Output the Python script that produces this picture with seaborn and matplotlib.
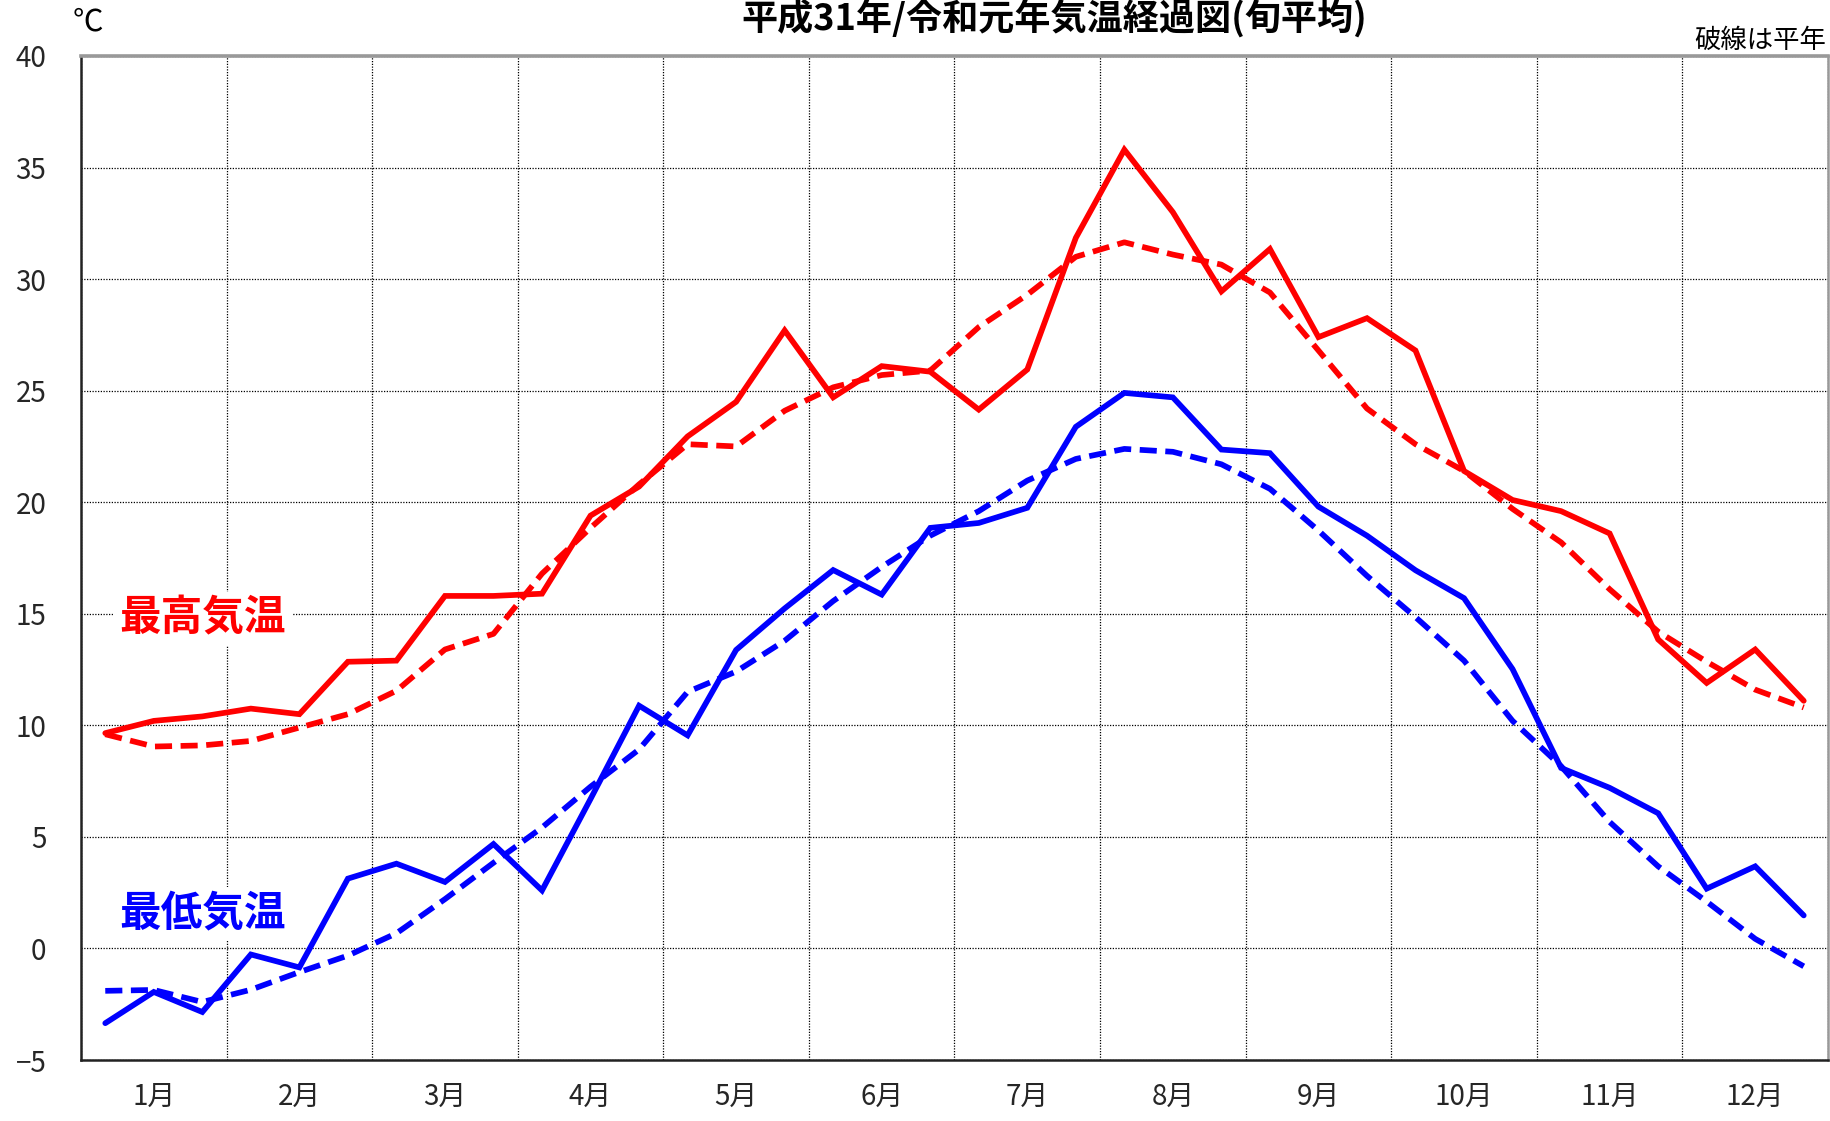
import numpy as np
import pandas as pd
import matplotlib
matplotlib.use("Agg")
import matplotlib.pyplot as plt
import seaborn as sns

# ---------------- data (旬平均, 36 dekads) ----------------
months = ["1月", "2月", "3月", "4月", "5月", "6月",
          "7月", "8月", "9月", "10月", "11月", "12月"]

max_2019 = [9.65, 10.2, 10.4, 10.75, 10.5, 12.85, 12.9, 15.8, 15.8,
            15.9, 19.4, 20.7, 22.95, 24.5, 27.7, 24.7, 26.1, 25.85,
            24.15, 25.95, 31.85, 35.8, 33.0, 29.45, 31.35, 27.4, 28.25,
            26.8, 21.4, 20.1, 19.6, 18.6, 13.85, 11.9, 13.4, 11.1]
max_normal = [9.6, 9.05, 9.1, 9.3, 9.9, 10.5, 11.55, 13.4, 14.1,
              16.8, 18.85, 20.8, 22.6, 22.5, 24.1, 25.15, 25.7, 25.9,
              27.85, 29.3, 31.0, 31.65, 31.1, 30.65, 29.4, 26.8, 24.2,
              22.6, 21.4, 19.7, 18.2, 16.1, 14.2, 12.85, 11.6, 10.8]
min_2019 = [-3.35, -1.95, -2.85, -0.27, -0.85, 3.13, 3.8, 2.98, 4.68,
            2.6, 6.7, 10.88, 9.55, 13.38, 15.24, 16.96, 15.86, 18.85,
            19.07, 19.75, 23.38, 24.9, 24.7, 22.36, 22.2, 19.8, 18.5,
            16.95, 15.7, 12.52, 8.09, 7.2, 6.06, 2.68, 3.68, 1.48]
min_normal = [-1.9, -1.86, -2.4, -1.85, -1.06, -0.32, 0.68, 2.21, 3.84,
              5.42, 7.25, 8.92, 11.5, 12.41, 13.79, 15.57, 17.1, 18.5,
              19.6, 20.97, 21.94, 22.39, 22.26, 21.7, 20.6, 18.73, 16.7,
              14.85, 12.9, 10.2, 8.17, 5.67, 3.68, 2.1, 0.43, -0.8]

y_ticks = [-5, 0, 5, 10, 15, 20, 25, 30, 35, 40]
y_tick_labels = ["\u22125", "0", "5", "10", "15", "20", "25", "30", "35", "40"]

title = "平成31年/令和元年気温経過図(旬平均)"
unit_label = "℃"
note_label = "破線は平年"
max_label = "最高気温"
min_label = "最低気温"

# ---------------- style ----------------
sns.set_theme(style="white")
plt.rcParams["font.family"] = ["Noto Sans CJK JP", "DejaVu Sans"]

RED = "#ff0000"
BLUE = "#0000ff"
LW = 4.1
DASH = (0, (3.0, 1.5))

W, H = 1831, 1121
fig = plt.figure(figsize=(W / 100, H / 100), dpi=100)
ax = fig.add_axes([81 / W, 1 - 1060 / H, (1828 - 81) / W, (1060 - 56) / H])

n = len(max_2019)
pos = np.arange(n) + 0.5  # dekad centres, 3 per month

sns.lineplot(x=pos, y=max_normal, ax=ax, color=RED, lw=LW, linestyle=DASH, zorder=3)
sns.lineplot(x=pos, y=min_normal, ax=ax, color=BLUE, lw=LW, linestyle=DASH, zorder=3)
sns.lineplot(x=pos, y=max_2019, ax=ax, color=RED, lw=LW, zorder=4,
             solid_joinstyle="miter")
sns.lineplot(x=pos, y=min_2019, ax=ax, color=BLUE, lw=LW, zorder=4,
             solid_joinstyle="miter")

ax.set_xlim(0, n)
ax.set_ylim(-5, 40)
ax.set_xticks(np.arange(0, n + 1, 3))
ax.set_xticklabels([])
ax.set_xticks(np.arange(1.5, n, 3), minor=True)
ax.set_xticklabels(months, minor=True, fontsize=20)
ax.set_yticks(y_ticks)
ax.set_yticklabels(y_tick_labels, fontsize=20)
ax.tick_params(axis="both", which="both", length=0)
ax.tick_params(axis="y", pad=25)
ax.tick_params(axis="x", which="minor", pad=16)

ax.grid(True, which="major", axis="both", color="black",
        linestyle=(0, (1, 1.2)), linewidth=0.9, zorder=1)
ax.set_axisbelow(True)

for side in ["left", "bottom"]:
    ax.spines[side].set_color("#222222")
    ax.spines[side].set_linewidth(1.8)
ax.spines["top"].set_color("#999999")
ax.spines["top"].set_linewidth(2.6)
ax.spines["right"].set_color("#999999")
ax.spines["right"].set_linewidth(1.8)
ax.set_xlabel("")
ax.set_ylabel("")

# labels inside the plot
ax.text(2.51, 14.77, max_label, color=RED, fontsize=30, fontweight="bold",
        ha="center", va="center", zorder=5,
        bbox=dict(boxstyle="square,pad=0.15", fc="white", ec="none"))
ax.text(2.51, 1.54, min_label, color=BLUE, fontsize=30, fontweight="bold",
        ha="center", va="center", zorder=5,
        bbox=dict(boxstyle="square,pad=0.15", fc="white", ec="none"))

# figure texts
fig.text(1054 / W, 1 - 38 / H, title, fontsize=26, fontweight="bold",
         ha="center", va="bottom", color="black")
fig.text(88 / W, 1 - 22 / H, unit_label, fontsize=22, ha="center",
         va="center", color="black")
fig.text(1826 / W, 1 - 40 / H, note_label, fontsize=19, ha="right",
         va="center", color="black")

fig.savefig("out.png", dpi=100)
